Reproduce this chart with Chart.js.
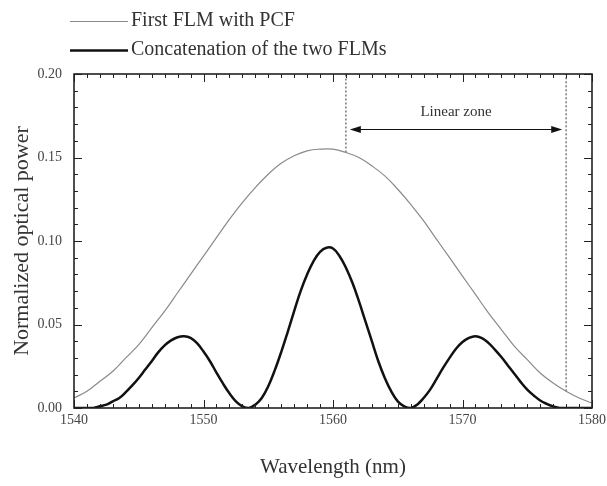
<!DOCTYPE html>
<html>
<head>
<meta charset="utf-8">
<script src="https://cdn.jsdelivr.net/npm/chart.js@4/dist/chart.umd.min.js"></script>
<style>
  html, body { margin: 0; padding: 0; background: #fff; }
  #wrap { width: 607px; height: 486px; }
</style>
</head>
<body>
<div id="wrap"><canvas id="chart" width="607" height="486"></canvas></div>
<script>
// Wavelength grid (nm) for the single FLM transmission, 1 nm steps
const flmWavelengths = [
  1540, 1541, 1542, 1543, 1544, 1545, 1546, 1547, 1548, 1549,
  1550, 1551, 1552, 1553, 1554, 1555, 1556, 1557, 1558, 1559,
  1560, 1561, 1562, 1563, 1564, 1565, 1566, 1567, 1568, 1569,
  1570, 1571, 1572, 1573, 1574, 1575, 1576, 1577, 1578, 1579, 1580
];
const flmPower = [
  0.006, 0.010, 0.016, 0.022, 0.030, 0.038, 0.048, 0.058, 0.069, 0.080,
  0.091, 0.102, 0.113, 0.123, 0.132, 0.140, 0.1465, 0.151, 0.154, 0.155,
  0.155, 0.153, 0.150, 0.145, 0.139, 0.131, 0.122, 0.112, 0.101, 0.090,
  0.079, 0.068, 0.057, 0.047, 0.037, 0.029, 0.021, 0.015, 0.010, 0.006, 0.003
];

// Concatenated FLMs, 0.5 nm steps
const concatWavelengths = [
  1540, 1540.5, 1541, 1541.5, 1542, 1542.5, 1543, 1543.5, 1544, 1544.5,
  1545, 1545.5, 1546, 1546.5, 1547, 1547.5, 1548, 1548.5, 1549, 1549.5,
  1550, 1550.5, 1551, 1551.5, 1552, 1552.5, 1553, 1553.5, 1554, 1554.5,
  1555, 1555.5, 1556, 1556.5, 1557, 1557.5, 1558, 1558.5, 1559, 1559.5,
  1560, 1560.5, 1561, 1561.5, 1562, 1562.5, 1563, 1563.5, 1564, 1564.5,
  1565, 1565.5, 1566, 1566.5, 1567, 1567.5, 1568, 1568.5, 1569, 1569.5,
  1570, 1570.5, 1571, 1571.5, 1572, 1572.5, 1573, 1573.5, 1574, 1574.5,
  1575, 1575.5, 1576, 1576.5, 1577, 1577.5, 1578, 1578.5, 1579, 1579.5, 1580
];
const concatPower = [
  0.000, 0.000, 0.000, 0.000, 0.001, 0.002, 0.004, 0.006, 0.0095, 0.0135,
  0.018, 0.023, 0.028, 0.0333, 0.0375, 0.0405, 0.0424, 0.043, 0.042, 0.0388,
  0.0338, 0.028, 0.0212, 0.0147, 0.0088, 0.004, 0.001, 0.000, 0.002, 0.006,
  0.013, 0.0225, 0.0335, 0.0455, 0.058, 0.070, 0.080, 0.088, 0.0935, 0.096,
  0.0955, 0.091, 0.084, 0.075, 0.064, 0.052, 0.040, 0.028, 0.018, 0.010,
  0.004, 0.001, 0.000, 0.002, 0.006, 0.011, 0.0175, 0.024, 0.030, 0.0355,
  0.0395, 0.042, 0.043, 0.0418, 0.039, 0.035, 0.0305, 0.0255, 0.0205, 0.0155,
  0.011, 0.0075, 0.0045, 0.0025, 0.001, 0.000, 0.000, 0.000, 0.000, 0.000, 0.000
];

// Linear zone edges (nm) and where the dotted markers stop on the FLM curve
const zoneEdges = [1561, 1578];
const zoneEdgeFloor = [0.153, 0.010];
const zoneArrowLevel = 0.167;
const zoneLabelLevel = 0.177;

const seriesNames = ['First FLM with PCF', 'Concatenation of the two FLMs'];

const X_MIN = 1540, X_MAX = 1580, Y_MIN = 0, Y_MAX = 0.20;
const SERIF = "'Liberation Serif', 'DejaVu Serif', serif";

const toPoints = (xs, ys) => xs.map((x, i) => ({ x: x, y: ys[i] }));

// Closed frame with inward ticks on all four sides
const frameTicks = {
  id: 'frameTicks',
  afterDatasetsDraw(chart) {
    const { ctx, chartArea: a, scales: { x, y } } = chart;
    ctx.save();
    ctx.strokeStyle = '#222';
    ctx.lineWidth = 1;
    ctx.beginPath();
    for (let w = X_MIN; w <= X_MAX; w += 1) {
      const px = Math.round(x.getPixelForValue(w)) + 0.5;
      const len = (w % 10 === 0) ? 8 : 4;
      ctx.moveTo(px, a.bottom); ctx.lineTo(px, a.bottom - len);
      ctx.moveTo(px, a.top); ctx.lineTo(px, a.top + len);
    }
    for (let i = 0; i <= 20; i++) {
      const py = Math.round(y.getPixelForValue(i / 100)) + 0.5;
      const len = (i % 5 === 0) ? 8 : 4;
      ctx.moveTo(a.left, py); ctx.lineTo(a.left + len, py);
      ctx.moveTo(a.right, py); ctx.lineTo(a.right - len, py);
    }
    ctx.stroke();
    ctx.lineWidth = 1.6;
    ctx.strokeRect(a.left, a.top, a.right - a.left, a.bottom - a.top);
    ctx.restore();
  }
};

// Double-headed arrow and label over the linear zone
const zoneLabel = {
  id: 'zoneLabel',
  afterDatasetsDraw(chart) {
    const { ctx, scales: { x, y } } = chart;
    const x0 = x.getPixelForValue(zoneEdges[0] + 0.3);
    const x1 = x.getPixelForValue(zoneEdges[1] - 0.3);
    const ay = Math.round(y.getPixelForValue(zoneArrowLevel)) + 0.5;
    ctx.save();
    ctx.strokeStyle = '#111';
    ctx.fillStyle = '#111';
    ctx.lineWidth = 1.2;
    ctx.beginPath();
    ctx.moveTo(x0 + 6, ay); ctx.lineTo(x1 - 6, ay);
    ctx.stroke();
    ctx.beginPath();
    ctx.moveTo(x0, ay); ctx.lineTo(x0 + 11, ay - 3.5); ctx.lineTo(x0 + 11, ay + 3.5); ctx.closePath();
    ctx.moveTo(x1, ay); ctx.lineTo(x1 - 11, ay - 3.5); ctx.lineTo(x1 - 11, ay + 3.5); ctx.closePath();
    ctx.fill();
    ctx.fillStyle = '#333';
    ctx.font = '15px ' + SERIF;
    ctx.textAlign = 'center';
    ctx.textBaseline = 'middle';
    ctx.fillText('Linear zone', (x0 + x1) / 2, y.getPixelForValue(zoneLabelLevel));
    ctx.restore();
  }
};

// Stacked legend above the plot
const stackedLegend = {
  id: 'stackedLegend',
  afterDraw(chart) {
    const { ctx } = chart;
    const rows = [
      { y: 21, color: '#8a8a8a', width: 1.2 },
      { y: 50, color: '#111', width: 2.5 }
    ];
    ctx.save();
    ctx.font = '20px ' + SERIF;
    ctx.textBaseline = 'middle';
    ctx.fillStyle = '#333';
    rows.forEach((r, i) => {
      ctx.strokeStyle = r.color;
      ctx.lineWidth = r.width;
      ctx.beginPath();
      ctx.moveTo(70, r.y + 0.5); ctx.lineTo(128, r.y + 0.5);
      ctx.stroke();
      ctx.fillText(seriesNames[i], 131, r.y);
    });
    ctx.restore();
  }
};

new Chart(document.getElementById('chart'), {
  type: 'line',
  data: {
    datasets: [
      {
        label: seriesNames[0],
        data: toPoints(flmWavelengths, flmPower),
        borderColor: '#8a8a8a',
        borderWidth: 1.2,
        pointRadius: 0,
        tension: 0.4
      },
      {
        label: seriesNames[1],
        data: toPoints(concatWavelengths, concatPower),
        borderColor: '#111',
        borderWidth: 2.5,
        pointRadius: 0,
        tension: 0.4
      },
      {
        label: 'zone start',
        data: [{ x: zoneEdges[0], y: zoneEdgeFloor[0] }, { x: zoneEdges[0], y: Y_MAX }],
        borderColor: '#333',
        borderWidth: 1,
        borderDash: [2, 2],
        pointRadius: 0
      },
      {
        label: 'zone end',
        data: [{ x: zoneEdges[1], y: zoneEdgeFloor[1] }, { x: zoneEdges[1], y: Y_MAX }],
        borderColor: '#333',
        borderWidth: 1,
        borderDash: [2, 2],
        pointRadius: 0
      }
    ]
  },
  options: {
    responsive: false,
    animation: false,
    layout: { padding: { top: 74, right: 15, bottom: 4, left: 0 } },
    plugins: {
      legend: { display: false },
      tooltip: { enabled: false }
    },
    scales: {
      x: {
        type: 'linear',
        min: X_MIN,
        max: X_MAX,
        grid: { display: false },
        border: { display: false },
        ticks: {
          stepSize: 10,
          color: '#444',
          font: { family: SERIF, size: 14 },
          padding: -4,
          maxRotation: 0,
          callback: v => String(v)
        },
        title: {
          display: true,
          text: 'Wavelength (nm)',
          color: '#333',
          font: { family: SERIF, size: 21 },
          padding: { top: 6, bottom: 2 }
        },
        afterFit(scale) { scale.height = 74; }
      },
      y: {
        type: 'linear',
        min: Y_MIN,
        max: Y_MAX,
        grid: { display: false },
        border: { display: false },
        ticks: {
          stepSize: 0.05,
          color: '#444',
          font: { family: SERIF, size: 14 },
          padding: 4,
          callback: v => v.toFixed(2)
        },
        title: {
          display: true,
          text: 'Normalized optical power',
          color: '#333',
          font: { family: SERIF, size: 22 },
          padding: { top: 9, bottom: 6 }
        },
        afterFit(scale) { scale.width = 74; }
      }
    }
  },
  plugins: [frameTicks, zoneLabel, stackedLegend]
});
</script>
</body>
</html>
